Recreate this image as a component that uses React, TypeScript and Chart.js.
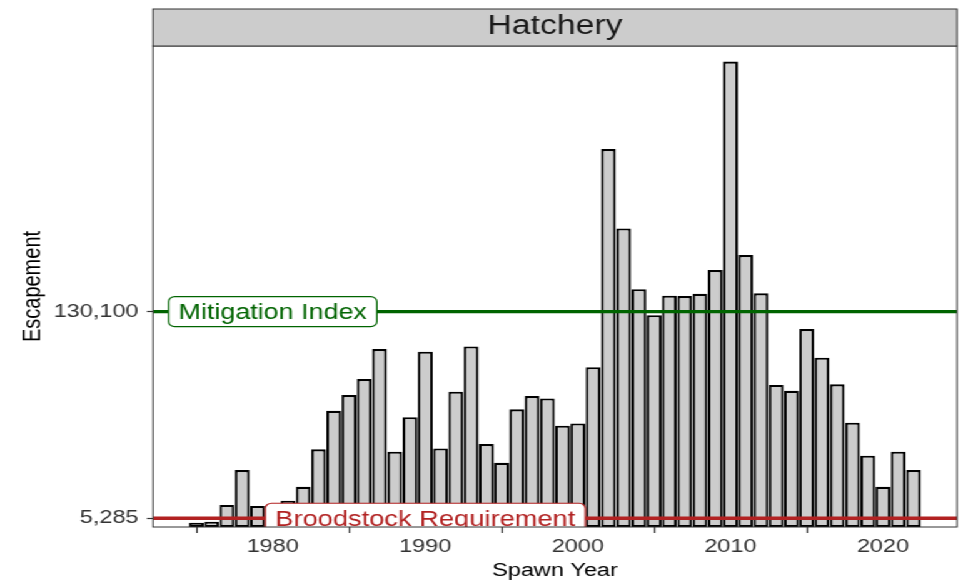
import React, { useEffect, useRef } from "react";
import { Chart, registerables } from "chart.js";

Chart.register(...registerables);

// ---------------- data ----------------
const years = [
  1975, 1976, 1977, 1978, 1979, 1980, 1981, 1982, 1983, 1984, 1985, 1986,
  1987, 1988, 1989, 1990, 1991, 1992, 1993, 1994, 1995, 1996, 1997, 1998,
  1999, 2000, 2001, 2002, 2003, 2004, 2005, 2006, 2007, 2008, 2009, 2010,
  2011, 2012, 2013, 2014, 2015, 2016, 2017, 2018, 2019, 2020, 2021, 2022,
];
const escapement = [
  2600, 3200, 13300, 34400, 12700, 5000, 15900, 24300, 46900, 70200, 79700, 89400,
  107500, 45500, 66300, 105900, 47500, 81700, 109100, 50100, 38800, 71100, 79100, 77700,
  61200, 62600, 96500, 228300, 180400, 143700, 128000, 139700, 139500, 140900, 155200, 281200,
  164300, 141200, 85800, 82300, 119600, 102300, 86200, 63000, 43100, 24300, 45500, 34400,
];
const xTickYears = [1980, 1990, 2000, 2010, 2020];
const yTickValues = [5285, 130100];
const refNames = ["Mitigation Index", "Broodstock Requirement"];
const refValues = [130100, 5285];
const refLabelYears = [1980, 1990];
const refColors = ["#006400", "#B22222"];
const panelTitle = "Hatchery";
const xTitle = "Spawn Year";
const yTitle = "Escapement";

// ---------------- layout ----------------
const W = 770;
const H = 583;
const SX = 963 / W;
const FONT = "'Liberation Sans', Arial, Helvetica, sans-serif";

const overlay = {
  id: "overlay",
  beforeDraw(chart: any) {
    const ctx = chart.ctx;
    ctx.save();
    ctx.fillStyle = "#ffffff";
    ctx.fillRect(0, 0, chart.width, chart.height);
    ctx.restore();
  },
  afterDatasetsDraw(chart: any) {
    const { ctx, chartArea: a, scales } = chart;
    const x = scales.x;
    const y = scales.y;
    ctx.save();
    ctx.beginPath();
    ctx.rect(a.left, a.top, a.right - a.left, a.bottom - a.top);
    ctx.clip();
    // reference lines
    const widths = [3.4, 3.6];
    refValues.forEach((v, i) => {
      const py = y.getPixelForValue(v);
      ctx.strokeStyle = refColors[i];
      ctx.lineWidth = widths[i];
      ctx.beginPath();
      ctx.moveTo(a.left, py);
      ctx.lineTo(a.right, py);
      ctx.stroke();
    });
    // labels
    const sizes = [21.5, 21.8];
    refNames.forEach((name, i) => {
      const fs = sizes[i];
      ctx.font = `${fs}px ${FONT}`;
      const tw = ctx.measureText(name).width;
      const cx = x.getPixelForValue(refLabelYears[i]);
      const cy = y.getPixelForValue(refValues[i]);
      const bw = tw + 16;
      const bh = 30;
      ctx.beginPath();
      (ctx as any).roundRect(cx - bw / 2, cy - bh / 2, bw, bh, 5);
      ctx.fillStyle = "#ffffff";
      ctx.fill();
      ctx.strokeStyle = refColors[i];
      ctx.lineWidth = 1.2;
      ctx.stroke();
      ctx.fillStyle = refColors[i];
      ctx.textAlign = "center";
      ctx.textBaseline = "alphabetic";
      ctx.fillText(name, cx, cy + 0.34 * fs);
    });
    ctx.restore();

    // panel border
    ctx.save();
    ctx.strokeStyle = "#333333";
    ctx.lineWidth = 1;
    ctx.strokeRect(a.left, a.top, a.right - a.left, a.bottom - a.top);
    // strip
    const stripTop = 9;
    ctx.fillStyle = "#cccccc";
    ctx.fillRect(a.left, stripTop, a.right - a.left, a.top - stripTop);
    ctx.strokeRect(a.left, stripTop, a.right - a.left, a.top - stripTop);
    ctx.fillStyle = "#1a1a1a";
    ctx.font = `27px ${FONT}`;
    ctx.textAlign = "center";
    ctx.textBaseline = "alphabetic";
    ctx.fillText(panelTitle, (a.left + a.right) / 2, 33.5);
    ctx.restore();
  },
};

export default function App() {
  const ref = useRef<HTMLCanvasElement>(null);
  useEffect(() => {
    const canvas = ref.current;
    if (!canvas) return;
    const chart = new Chart(canvas, {
      type: "bar",
      data: {
        datasets: [
          {
            data: years.map((yr, i) => ({ x: yr, y: escapement[i] })),
            backgroundColor: "#cccccc",
            borderColor: "#000000",
            borderWidth: 2.1,
            borderSkipped: false,
            categoryPercentage: 1,
            barPercentage: 0.97,
          } as any,
        ],
      },
      options: {
        responsive: false,
        animation: false,
        devicePixelRatio: 1,
        layout: { padding: { top: 46, left: 0, right: 4.8, bottom: 0 } },
        plugins: { legend: { display: false }, tooltip: { enabled: false } },
        scales: {
          x: {
            type: "linear",
            min: 1972.15,
            max: 2024.85,
            offset: false,
            afterBuildTicks: (s: any) => {
              s.ticks = xTickYears.map((v) => ({ value: v }));
            },
            afterFit: (s: any) => {
              s.height = 56;
            },
            grid: {
              drawOnChartArea: false,
              drawTicks: true,
              tickLength: 6,
              tickColor: "#333333",
              tickWidth: 1.2,
            },
            border: { display: false },
            ticks: {
              color: "#333333",
              font: { family: FONT, size: 18.8 },
              padding: 3,
              maxRotation: 0,
              autoSkip: false,
              callback: (v: any) => String(v),
            },
            title: {
              display: true,
              text: xTitle,
              color: "#000000",
              font: { family: FONT, size: 18.8 },
              padding: { top: 0, bottom: 0.5 },
            },
          },
          y: {
            type: "linear",
            min: 0,
            max: 290600,
            afterBuildTicks: (s: any) => {
              s.ticks = yTickValues.map((v) => ({ value: v }));
            },
            afterFit: (s: any) => {
              s.width = 122.3;
            },
            grid: {
              drawOnChartArea: false,
              drawTicks: true,
              tickLength: 4.8,
              tickColor: "#333333",
              tickWidth: 1.2,
            },
            border: { display: false },
            ticks: {
              color: "#333333",
              font: { family: FONT, size: 18.8 },
              padding: 6.7,
              autoSkip: false,
              callback: (v: any) => Number(v).toLocaleString("en-US"),
            },
            title: {
              display: true,
              text: yTitle,
              color: "#000000",
              font: { family: FONT, size: 20 },
              padding: { top: 14.4, bottom: 0 },
            },
          },
        },
      } as any,
      plugins: [overlay],
    });
    return () => chart.destroy();
  }, []);

  return (
    <div
      style={{
        position: "fixed",
        left: 0,
        top: 0,
        width: W,
        height: H,
        transform: `scaleX(${SX})`,
        transformOrigin: "0 0",
        background: "#ffffff",
      }}
    >
      <canvas
        ref={ref}
        width={W}
        height={H}
        style={{ width: W, height: H, display: "block" }}
      />
    </div>
  );
}
